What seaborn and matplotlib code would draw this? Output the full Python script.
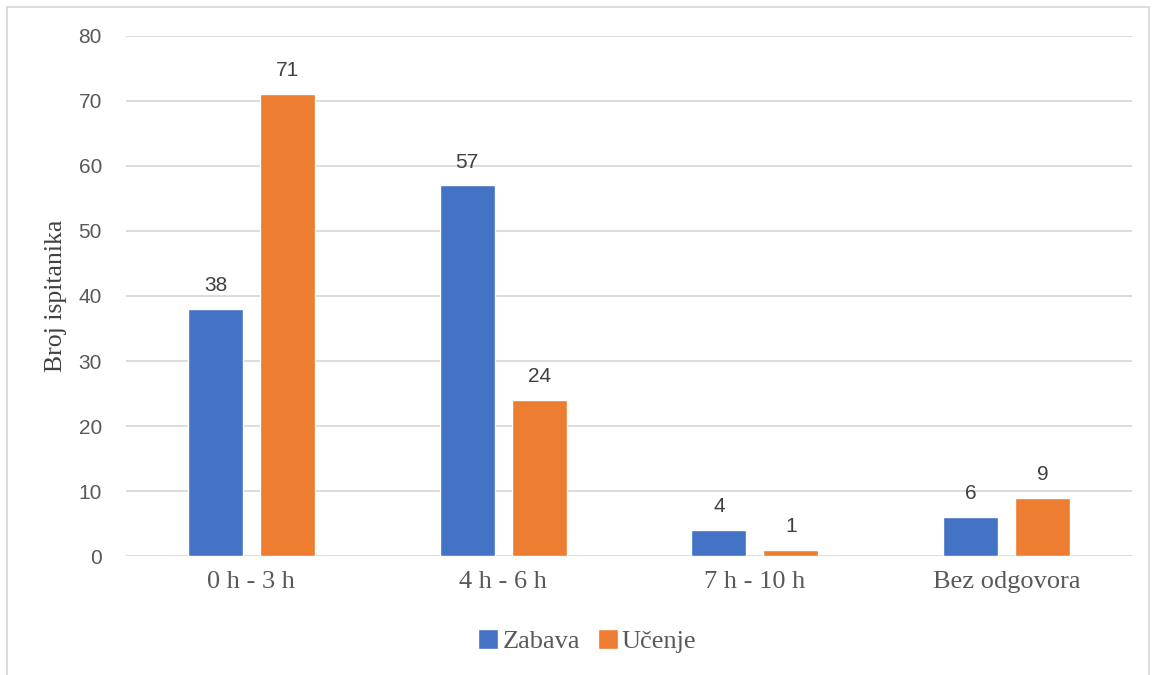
import numpy as np
import pandas as pd
import seaborn as sns
import matplotlib.pyplot as plt
from matplotlib.patches import Rectangle

categories = ['0 h - 3 h', '4 h - 6 h', '7 h - 10 h', 'Bez odgovora']
zabava = [38, 57, 4, 6]
ucenje = [71, 24, 1, 9]
series_names = ['Zabava', 'Učenje']
colors = ['#4472C4', '#ED7D31']

df = pd.DataFrame({
    'Kategorija': categories * 2,
    'Broj': zabava + ucenje,
    'Serija': [series_names[0]] * 4 + [series_names[1]] * 4,
})

sns.set_style('white')
plt.rcParams['font.family'] = ['Liberation Serif', 'DejaVu Serif']
text_col = '#595959'
sans = ['Liberation Sans', 'DejaVu Sans']

fig = plt.figure(figsize=(11.52, 6.75), dpi=100)
ax = fig.add_axes([0.109, 0.176, 0.874, 0.771])

sns.barplot(data=df, x='Kategorija', y='Broj', hue='Serija', palette=colors,
            saturation=1, width=0.572, gap=0.234, ax=ax, legend=True)

# data labels
for cont in ax.containers:
    ax.bar_label(cont, padding=10, fontsize=15, color='#404040', family=sans)

ax.set_xlim(-0.5, 3.5)
ax.set_ylim(0, 80)
ax.set_yticks(np.arange(0, 81, 10))
ax.yaxis.grid(True, color='#D9D9D9', linewidth=1.3)
ax.set_axisbelow(True)
for s in ax.spines.values():
    s.set_visible(False)
ax.tick_params(axis='both', length=0)
ax.tick_params(axis='x', labelsize=19, colors=text_col, pad=11)
ax.tick_params(axis='y', labelsize=15, colors=text_col, pad=17)
for lab in ax.get_yticklabels():
    lab.set_family(sans)
ax.set_xlabel('')
ax.set_ylabel('Broj ispitanika', fontsize=18.5, color='#404040')
ax.yaxis.set_label_coords(-0.0586, 0.5)

# legend below
handles, labels = ax.get_legend_handles_labels()
ax.legend_.remove()
leg = fig.legend(handles, labels, loc='center', bbox_to_anchor=(0.51, 0.05),
                 ncol=2, frameon=False, fontsize=19, handlelength=0.75,
                 handleheight=0.75, handletextpad=0.15, columnspacing=0.7)
for t in leg.get_texts():
    t.set_color(text_col)

# chart border
fig.patches.append(Rectangle((7 / 1152, -0.02), 1142 / 1152, 1 - 7 / 675 + 0.02,
                             transform=fig.transFigure, fill=False,
                             edgecolor='#D9D9D9', linewidth=1.3))

fig.savefig('out.png', dpi=100)
